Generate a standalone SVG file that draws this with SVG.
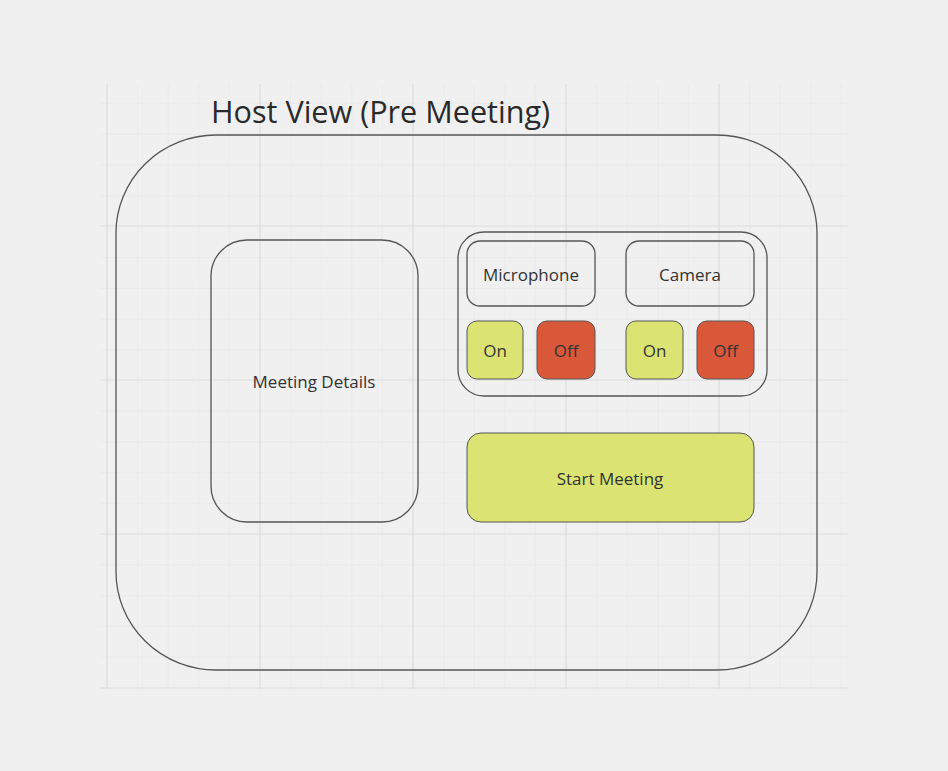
<svg xmlns="http://www.w3.org/2000/svg" width="948" height="771" viewBox="0 0 948 771">
<style>
.minor{stroke:#eaeaea;stroke-width:1;fill:none}
.major{stroke:#dcdcdc;stroke-width:1.2;fill:none}
.box{fill:none;stroke:#555;stroke-width:1.3}
.on{fill:#dbe473;stroke:#555;stroke-width:1}
.off{fill:#d9583a;stroke:#555;stroke-width:1}
.lbl{font-family:"Open Sans","Liberation Sans",sans-serif;font-size:17px;fill:#333;text-anchor:middle}
.title{font-family:"Open Sans","Liberation Sans",sans-serif;font-size:30.6px;fill:#2a2a2a}
</style>
<rect width="948" height="771" fill="#f0f0f0"/>
<g id="grid">
<path class="minor" d="M137.6 84V689M168.2 84V689M198.8 84V689M229.4 84V689M290.6 84V689M321.2 84V689M351.8 84V689M382.4 84V689M443.6 84V689M474.2 84V689M504.8 84V689M535.4 84V689M596.6 84V689M627.2 84V689M657.8 84V689M688.4 84V689M749.6 84V689M780.2 84V689M810.8 84V689M841.4 84V689
M100 103.4H848M100 134.2H848M100 165H848M100 195.8H848M100 257.6H848M100 288.4H848M100 319.2H848M100 350H848M100 411H848M100 441.8H848M100 472.6H848M100 503.4H848M100 564.8H848M100 595.6H848M100 626.4H848M100 657.2H848"/>
<path class="major" d="M107 84V689M260 84V689M413 84V689M566 84V689M719 84V689M100 226H848M100 380H848M100 534H848M100 688H848"/>
</g>
<text class="title" x="211" y="123">Host View (Pre Meeting)</text>
<g id="host-frame"><rect class="box" x="116" y="135" width="701" height="535" rx="100" ry="98"/></g>
<g id="meeting-details">
<rect class="box" x="211" y="240" width="207" height="282" rx="36" ry="36"/>
<text class="lbl" x="314" y="388">Meeting Details</text>
</g>
<g id="av-panel"><rect class="box" x="458" y="232" width="309" height="164" rx="26" ry="26"/></g>
<g id="microphone">
<rect class="box" x="467" y="241" width="128" height="65" rx="13"/>
<text class="lbl" x="531" y="281">Microphone</text>
</g>
<g id="camera">
<rect class="box" x="626" y="241" width="128" height="65" rx="13"/>
<text class="lbl" x="690" y="281">Camera</text>
</g>
<g id="mic-on"><rect class="on" x="467" y="321" width="56" height="58" rx="10"/><text class="lbl" x="495" y="357">On</text></g>
<g id="mic-off"><rect class="off" x="537" y="321" width="58" height="58" rx="10"/><text class="lbl" x="566" y="357">Off</text></g>
<g id="cam-on"><rect class="on" x="626" y="321" width="57" height="58" rx="10"/><text class="lbl" x="654.5" y="357">On</text></g>
<g id="cam-off"><rect class="off" x="697" y="321" width="57" height="58" rx="10"/><text class="lbl" x="725.5" y="357">Off</text></g>
<g id="start-meeting"><rect class="on" x="467" y="433" width="287" height="89" rx="14"/><text class="lbl" x="610" y="485">Start Meeting</text></g>
<g id="connectors"/>
</svg>
